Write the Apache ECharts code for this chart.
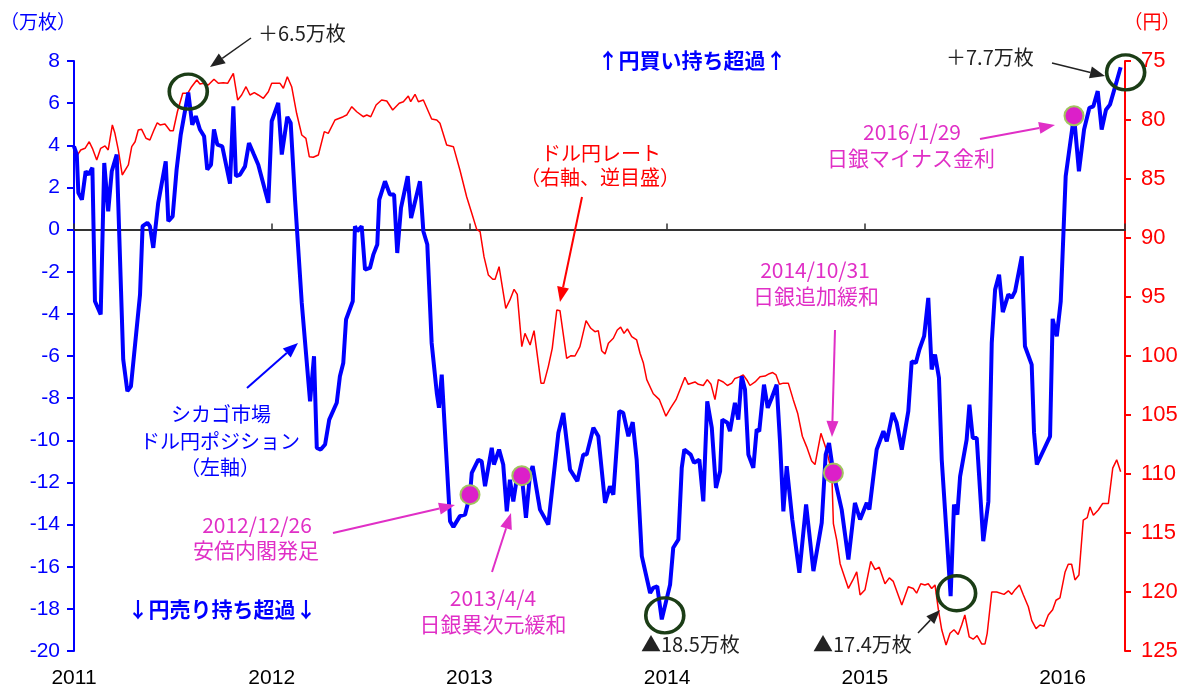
<!DOCTYPE html>
<html>
<head>
<meta charset="utf-8">
<script src="https://cdn.jsdelivr.net/npm/echarts@6/dist/echarts.min.js"></script>
<style>
html,body{margin:0;padding:0;background:#fff;}
#chart{width:1187px;height:690px;}
</style>
</head>
<body>
<div id="chart"></div>
<script>
// CFTC yen net non-commercial position (10,000 contracts), dated in decimal years
const posYears = [
2011.000,2011.014,2011.022,2011.040,2011.059,2011.074,2011.093,2011.106,2011.135,2011.153,
2011.173,2011.191,2011.216,2011.249,2011.270,2011.288,2011.334,2011.347,2011.371,2011.384,
2011.401,2011.426,2011.464,2011.477,2011.499,2011.519,2011.540,2011.578,2011.598,2011.616,
2011.637,2011.658,2011.674,2011.693,2011.708,2011.725,2011.750,2011.789,2011.806,2011.819,
2011.840,2011.865,2011.885,2011.910,2011.932,2011.983,2012.000,2012.033,2012.051,2012.079,
2012.096,2012.118,2012.152,2012.194,2012.214,2012.228,2012.248,2012.270,2012.291,2012.329,
2012.345,2012.362,2012.376,2012.410,2012.421,2012.433,2012.455,2012.472,2012.497,2012.514,
2012.534,2012.544,2012.573,2012.598,2012.619,2012.635,2012.654,2012.688,2012.705,2012.750,
2012.767,2012.787,2012.809,2012.835,2012.846,2012.860,2012.902,2012.919,2012.952,2012.978,
2013.003,2013.012,2013.045,2013.062,2013.079,2013.113,2013.124,2013.150,2013.171,2013.189,
2013.205,2013.222,2013.239,2013.265,2013.286,2013.307,2013.320,2013.357,2013.399,2013.450,
2013.475,2013.509,2013.546,2013.576,2013.593,2013.627,2013.652,2013.686,2013.711,2013.728,
2013.758,2013.778,2013.804,2013.826,2013.846,2013.872,2013.914,2013.930,2013.950,2013.973,
2014.015,2014.031,2014.057,2014.074,2014.087,2014.119,2014.136,2014.163,2014.183,2014.203,
2014.226,2014.247,2014.268,2014.279,2014.305,2014.318,2014.343,2014.360,2014.377,2014.394,
2014.411,2014.436,2014.453,2014.466,2014.490,2014.509,2014.529,2014.554,2014.571,2014.588,
2014.605,2014.633,2014.669,2014.703,2014.740,2014.782,2014.802,2014.819,2014.841,2014.883,
2014.917,2014.950,2014.976,2015.010,2015.023,2015.060,2015.094,2015.111,2015.141,2015.161,
2015.187,2015.220,2015.237,2015.258,2015.276,2015.300,2015.321,2015.338,2015.355,2015.375,
2015.389,2015.434,2015.451,2015.468,2015.482,2015.515,2015.529,2015.546,2015.566,2015.599,
2015.625,2015.642,2015.659,2015.679,2015.698,2015.726,2015.743,2015.760,2015.794,2015.810,
2015.844,2015.856,2015.870,2015.937,2015.950,2015.971,2015.991,2016.016,2016.058,2016.083,
2016.109,2016.136,2016.156,2016.178,2016.198,2016.220,2016.240,2016.274,2016.294
];
const posValues = [
3.95,3.56,1.74,1.42,2.77,2.61,2.93,-3.4,-4.03,3.16,
0.87,2.77,3.56,-6.17,-7.67,-7.44,-3.08,0.16,0.32,0.16,
-0.87,1.27,3.24,0.4,0.63,2.85,4.51,6.5,4.98,5.38,
4.75,4.43,2.85,3.08,4.75,4.03,3.95,2.18,5.85,2.53,
2.61,3.0,4.11,3.56,3.08,1.27,5.14,6.01,3.56,5.35,
5.06,1.42,-3.48,-8.15,-6.01,-10.36,-10.44,-10.2,-9.02,-8.22,
-6.96,-6.33,-4.27,-3.4,0.16,-0.08,0.16,-1.9,-1.82,-1.19,
-0.71,1.42,2.29,1.66,1.66,-1.11,1.03,2.53,0.55,2.29,
-0.08,-0.71,-5.38,-7.75,-8.46,-6.88,-13.84,-14.11,-13.6,-13.53,
-12.58,-11.55,-10.92,-11.0,-12.18,-10.36,-11.15,-10.44,-11.15,-13.37,
-11.87,-12.9,-11.87,-11.68,-13.68,-11.55,-11.23,-13.29,-14.0,-9.65,
-8.7,-11.39,-11.94,-10.68,-10.68,-9.41,-9.81,-12.97,-12.18,-12.58,
-8.62,-8.7,-9.81,-9.14,-10.92,-15.5,-17.25,-17.0,-16.93,-18.5,
-16.85,-15.1,-14.71,-11.31,-10.44,-10.68,-11.07,-10.92,-12.9,-8.15,
-9.41,-12.26,-11.47,-9.02,-9.17,-9.57,-8.22,-9.02,-6.96,-7.59,
-10.68,-11.31,-9.49,-9.57,-7.36,-8.46,-7.99,-7.36,-10.05,-13.37,
-11.23,-13.76,-16.29,-13.05,-16.21,-13.92,-10.68,-10.13,-11.55,-13.29,
-15.66,-12.97,-13.76,-12.97,-13.29,-10.44,-9.57,-10.05,-8.7,-9.17,
-10.44,-8.62,-6.25,-6.33,-5.69,-5.06,-3.24,-6.64,-5.93,-7.04,
-10.92,-17.4,-13.05,-13.53,-11.71,-9.97,-8.31,-9.89,-9.89,-14.79,
-12.9,-5.38,-2.85,-2.14,-3.92,-3.08,-3.24,-2.93,-1.27,-5.54,
-6.41,-9.65,-11.15,-9.81,-4.24,-5.06,-3.4,2.53,5.4,2.77,
4.75,5.78,5.85,6.57,4.75,5.69,5.93,7.04,7.7
];

// USD/JPY rate (yen), dated in decimal years
const rateYears = [
2011.000,2011.017,2011.034,2011.056,2011.077,2011.093,2011.115,2011.135,2011.157,2011.173,
2011.194,2011.207,2011.224,2011.244,2011.275,2011.292,2011.309,2011.325,2011.342,2011.364,
2011.384,2011.406,2011.421,2011.435,2011.460,2011.486,2011.502,2011.523,2011.550,2011.575,
2011.595,2011.621,2011.637,2011.654,2011.679,2011.708,2011.730,2011.755,2011.777,2011.806,
2011.828,2011.848,2011.870,2011.890,2011.912,2011.932,2011.958,2011.983,2012.000,2012.042,
2012.059,2012.079,2012.101,2012.126,2012.152,2012.173,2012.190,2012.210,2012.236,2012.266,
2012.286,2012.320,2012.362,2012.379,2012.405,2012.430,2012.463,2012.481,2012.501,2012.528,
2012.556,2012.582,2012.612,2012.645,2012.666,2012.691,2012.703,2012.725,2012.742,2012.767,
2012.809,2012.835,2012.851,2012.885,2012.919,2012.952,2012.986,2013.012,2013.037,2013.054,
2013.074,2013.096,2013.118,2013.130,2013.150,2013.184,2013.205,2013.226,2013.242,2013.265,
2013.281,2013.307,2013.327,2013.362,2013.377,2013.399,2013.419,2013.442,2013.458,2013.492,
2013.514,2013.534,2013.559,2013.590,2013.614,2013.635,2013.652,2013.669,2013.686,2013.703,
2013.728,2013.748,2013.765,2013.782,2013.799,2013.821,2013.846,2013.863,2013.880,2013.897,
2013.930,2013.961,2013.994,2014.018,2014.045,2014.090,2014.107,2014.141,2014.158,2014.183,
2014.203,2014.222,2014.242,2014.259,2014.284,2014.305,2014.327,2014.343,2014.369,2014.385,
2014.406,2014.419,2014.445,2014.470,2014.495,2014.517,2014.534,2014.551,2014.568,2014.588,
2014.613,2014.638,2014.661,2014.684,2014.706,2014.731,2014.748,2014.778,2014.807,2014.833,
2014.841,2014.858,2014.875,2014.917,2014.939,2014.959,2014.976,2015.001,2015.030,2015.052,
2015.073,2015.102,2015.124,2015.144,2015.187,2015.220,2015.245,2015.262,2015.283,2015.304,
2015.321,2015.338,2015.355,2015.372,2015.389,2015.411,2015.431,2015.451,2015.472,2015.490,
2015.506,2015.528,2015.548,2015.568,2015.591,2015.608,2015.619,2015.642,2015.667,2015.704,
2015.726,2015.743,2015.760,2015.782,2015.802,2015.827,2015.844,2015.866,2015.886,2015.906,
2015.928,2015.950,2015.967,2015.987,2016.013,2016.029,2016.046,2016.063,2016.083,2016.105,
2016.125,2016.139,2016.156,2016.181,2016.203,2016.232,2016.254,2016.274,2016.294
];
const rateValues = [
82.68,82.97,82.54,82.4,81.84,82.4,83.39,82.4,82.2,82.54,
80.42,81.13,82.54,84.66,83.81,82.26,81.84,80.85,80.79,81.55,
81.69,80.79,80.23,80.42,80.34,80.91,80.91,79.3,77.74,77.74,
77.18,76.61,76.95,76.89,77.03,76.55,76.89,76.84,76.89,76.04,
78.31,77.88,77.18,77.88,77.68,77.88,78.16,77.6,76.89,76.89,
77.31,76.33,77.18,79.43,81.27,81.55,83.11,83.16,82.97,80.99,
81.13,80.0,79.72,79.58,78.87,79.3,79.72,79.58,79.72,78.73,
78.31,78.39,79.15,78.58,78.45,77.97,78.45,77.82,78.45,78.31,
79.92,80.0,80.28,82.12,82.26,84.24,86.5,87.91,89.27,89.46,
91.6,93.14,93.5,93.5,92.43,95.96,95.25,94.35,94.77,99.21,
98.08,99.07,97.85,102.3,102.3,100.9,99.35,96.1,96.16,100.2,
99.97,100.0,99.21,97.0,97.65,97.94,97.85,99.55,99.83,98.92,
98.5,97.8,97.55,98.08,97.71,98.36,98.64,99.77,100.6,102.0,
103.2,103.7,105.1,104.4,103.7,101.8,102.4,102.2,102.4,102.5,
102.0,102.4,103.7,102.0,102.2,102.5,102.3,101.9,101.75,101.6,
102.1,102.5,102.2,101.75,101.7,101.5,101.4,101.6,102.4,102.3,
102.3,103.7,104.9,106.8,107.7,108.9,109.2,106.55,108.0,109.9,
114.2,115.6,117.6,119.7,119.0,118.3,120.25,119.8,117.4,118.1,
117.9,119.3,118.8,119.1,121.1,119.55,119.7,120.1,119.3,119.4,
119.3,119.7,119.4,121.5,123.2,124.5,123.5,123.2,123.6,122.8,
121.95,123.8,124.0,123.7,124.4,124.4,123.5,120.0,120.0,120.2,
119.9,120.2,119.8,119.4,120.25,121.25,122.4,123.1,122.8,122.9,
121.95,121.5,120.7,120.5,118.3,117.65,117.65,118.98,118.56,113.9,
113.7,112.8,113.5,113.05,112.5,112.5,109.5,108.8,109.8
];

// Policy events marked on the position line
const eventYears = [2013.003, 2013.265, 2014.841, 2016.058];
const eventValues = [-12.58, -11.68, -11.55, 5.4];

// Extremes of the position line that are ringed
const extremeYears = [2011.578, 2013.973, 2015.434, 2016.294];
const extremeValues = [6.5, -18.5, -17.4, 7.7];

// Axis ranges
const positionRange = [-20, 8, 2];
const rateRange = [75, 125, 5];
const yearRange = [2011, 2016.316];

const zip = (xs, ys) => xs.map((x, i) => [x, ys[i]]);

const BLUE = '#0000ff';
const RED = '#ff0000';
const MAGENTA = '#e02fc6';
const DARK = '#222222';
const RING = '#1b3d16';
const JP = '"Noto Sans CJK JP", sans-serif';
const NUM = '"Liberation Sans", Arial, sans-serif';

function txt(x, y, text, color, size, opts) {
  opts = opts || {};
  return {
    type: 'text', x: x, y: y, z: 50,
    style: {
      text: text, fill: color,
      font: (opts.bold ? 'bold ' : '') + size + 'px ' + (opts.font || JP),
      textAlign: opts.align || 'center', textVerticalAlign: 'middle'
    }
  };
}

function arrow(x1, y1, x2, y2, color, width, headLen, headW) {
  const a = Math.atan2(y2 - y1, x2 - x1);
  const bx = x2 - headLen * Math.cos(a), by = y2 - headLen * Math.sin(a);
  const px = -Math.sin(a) * headW / 2, py = Math.cos(a) * headW / 2;
  return [
    { type: 'line', z: 50, shape: { x1: x1, y1: y1, x2: bx, y2: by }, style: { stroke: color, lineWidth: width } },
    { type: 'polygon', z: 50, shape: { points: [[x2, y2], [bx + px, by + py], [bx - px, by - py]] }, style: { fill: color } }
  ];
}

const ringOffsets = [[0, -1], [3, -4], [6, -3], [5, 5]];

const yearLabel = v => (Math.abs(v - Math.round(v)) < 1e-6 ? String(Math.round(v)) : '');

const chart = echarts.init(document.getElementById('chart'), null, { renderer: 'canvas' });

const graphics = [].concat(
  [
    txt(38, 22, '（万枚）', BLUE, 19),
    txt(1152, 22, '（円）', RED, 19),
    txt(258, 33, '＋6.5万枚', DARK, 20, { align: 'left' }),
    txt(692, 60, '↑円買い持ち超過↑', BLUE, 21, { bold: true }),
    txt(946, 57, '＋7.7万枚', DARK, 20, { align: 'left' }),
    txt(912, 132, '2016/1/29', MAGENTA, 21),
    txt(911, 158, '日銀マイナス金利', MAGENTA, 21),
    txt(601, 153, 'ドル円レート', RED, 20),
    txt(600, 177, '（右軸、逆目盛）', RED, 20),
    txt(815, 270, '2014/10/31', MAGENTA, 21),
    txt(816, 296, '日銀追加緩和', MAGENTA, 21),
    txt(221, 414, 'シカゴ市場', BLUE, 20),
    txt(220, 441, 'ドル円ポジション', BLUE, 20),
    txt(220, 467, '（左軸）', BLUE, 20),
    txt(257, 525, '2012/12/26', MAGENTA, 21),
    txt(256, 550, '安倍内閣発足', MAGENTA, 21),
    txt(493, 598, '2013/4/4', MAGENTA, 21),
    txt(493, 624, '日銀異次元緩和', MAGENTA, 21),
    txt(222, 609, '↓円売り持ち超過↓', BLUE, 21, { bold: true }),
    txt(641, 644, '▲18.5万枚', DARK, 20, { align: 'left' }),
    txt(813, 644, '▲17.4万枚', DARK, 20, { align: 'left' })
  ],
  arrow(251, 38, 210, 67, DARK, 1.5, 15, 12),
  arrow(1052, 63, 1105, 76, DARK, 1.5, 15, 12),
  arrow(582, 197, 560, 302, RED, 2, 15, 12),
  arrow(247, 388, 298, 343, BLUE, 2, 15, 12),
  arrow(333, 533, 455, 505, MAGENTA, 2, 16, 12),
  arrow(492, 572, 511, 513, MAGENTA, 2, 16, 12),
  arrow(835, 330, 832, 437, MAGENTA, 2, 16, 12),
  arrow(980, 139, 1055, 125, MAGENTA, 2, 16, 12),
  arrow(918, 633, 940, 610, DARK, 1.5, 14, 11)
);

const option = {
  animation: false,
  backgroundColor: '#ffffff',
  grid: { left: 74, right: 62, top: 61, bottom: 39, containLabel: false },
  xAxis: [
    {
      type: 'value', min: yearRange[0], max: yearRange[1], interval: 1,
      axisLine: { show: false, onZero: false },
      axisTick: { show: false },
      splitLine: { show: false },
      axisLabel: { formatter: yearLabel, color: '#000', fontSize: 21, fontFamily: NUM, margin: 17 }
    },
    {
      type: 'value', min: yearRange[0], max: yearRange[1], interval: 1, position: 'bottom',
      axisLine: { show: true, onZero: true, lineStyle: { color: '#333', width: 2 } },
      axisTick: { show: true, inside: true, length: 6, lineStyle: { color: '#333', width: 1.5 } },
      axisLabel: { show: false },
      splitLine: { show: false }
    }
  ],
  yAxis: [
    {
      type: 'value', min: positionRange[0], max: positionRange[1], interval: positionRange[2], position: 'left',
      axisLine: { show: true, onZero: false, lineStyle: { color: BLUE, width: 2 } },
      axisTick: { show: true, length: 7, lineStyle: { color: BLUE, width: 2 } },
      axisLabel: { color: BLUE, fontSize: 21, fontFamily: NUM, margin: 14 },
      splitLine: { show: false }
    },
    {
      type: 'value', min: rateRange[0], max: rateRange[1], interval: rateRange[2], inverse: true, position: 'right',
      axisLine: { show: true, onZero: false, lineStyle: { color: RED, width: 2 } },
      axisTick: { show: true, length: 6, lineStyle: { color: RED, width: 2 } },
      axisLabel: { color: RED, fontSize: 22, fontFamily: NUM, margin: 16 },
      splitLine: { show: false }
    }
  ],
  series: [
    {
      type: 'line', xAxisIndex: 0, yAxisIndex: 1, data: zip(rateYears, rateValues),
      showSymbol: false, lineStyle: { color: RED, width: 1.5 }, z: 2, silent: true
    },
    {
      type: 'line', xAxisIndex: 0, yAxisIndex: 0, data: zip(posYears, posValues),
      showSymbol: false, lineStyle: { color: BLUE, width: 4 }, z: 3, silent: true
    },
    {
      type: 'scatter', xAxisIndex: 0, yAxisIndex: 0, data: zip(eventYears, eventValues),
      symbol: 'circle', symbolSize: 19,
      itemStyle: { color: '#dc1fc9', borderColor: '#a2c35f', borderWidth: 2, opacity: 1 },
      z: 5, silent: true
    },
    {
      type: 'scatter', xAxisIndex: 0, yAxisIndex: 0,
      data: zip(extremeYears, extremeValues).map((p, i) => ({ value: p, symbolOffset: ringOffsets[i] })),
      symbol: 'circle', symbolSize: [38, 35],
      itemStyle: { color: 'rgba(0,0,0,0)', borderColor: RING, borderWidth: 3.5, opacity: 1 },
      z: 6, silent: true
    }
  ],
  graphic: graphics
};

chart.setOption(option);
</script>
</body>
</html>
